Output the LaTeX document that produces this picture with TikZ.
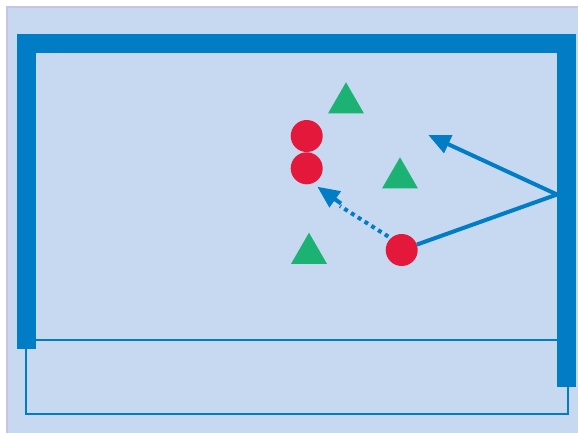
\documentclass[tikz,border=0pt]{standalone}
\usetikzlibrary{shapes.geometric,arrows.meta}
\definecolor{bgblue}{RGB}{198,217,240}
\definecolor{edgelav}{RGB}{196,198,226}
\definecolor{frameblue}{RGB}{0,125,197}
\definecolor{ballred}{RGB}{228,24,58}
\definecolor{conegreen}{RGB}{27,178,116}
\begin{document}
\begin{tikzpicture}[x=1pt,y=-1pt,
  ball/.style={circle,fill=ballred,minimum size=32pt,inner sep=0pt},
  cone/.style={regular polygon,regular polygon sides=3,fill=conegreen,minimum size=41.4pt,inner sep=0pt},
  post/.style={fill=frameblue},
  thinline/.style={draw=frameblue,line width=2pt},
  pass/.style={draw=frameblue,line width=4pt},
  passtip/.style={-{Triangle[length=22pt,width=19pt]}},
  run/.style={pass,dash pattern=on 4pt off 4pt}]
  \useasboundingbox (0,0) rectangle (578,433);
  % pitch background
  \fill[bgblue] (7,7) rectangle (578,433);
  \draw[edgelav,line width=1.2pt] (7,433) -- (7,7) -- (578,7);
  % goal frame: crossbar and posts
  \fill[post] (17,34) rectangle (576,53);
  \fill[post] (17,34) rectangle (36,349);
  \fill[post] (557,34) rectangle (576,387);
  % goal line and net base
  \draw[thinline] (36,340) -- (557,340);
  \draw[thinline] (26,349) -- (26,414) -- (568,414) -- (568,387);
  % cones
  \node[cone] (c1) at (346,103) {};
  \node[cone] (c2) at (400,178) {};
  \node[cone] (c3) at (309,253.4) {};
  % players
  \node[ball] (p1) at (306.7,136) {};
  \node[ball] (p2) at (306.7,168.3) {};
  \node[ball] (p3) at (401.7,250) {};
  % passing lines
  \coordinate (rebound) at (557,194.5);
  \coordinate (target) at (428.3,135);
  \coordinate (runend) at (317.3,186.7);
  \draw[pass] (p3) -- (rebound);
  \draw[pass,passtip] (rebound) -- (target);
  \draw[run] (p3.north west) ++(-2,-2) coordinate (runstart) -- (340,206);
  \draw[pass,passtip,shorten <=0pt] (341,203.5) -- (runend);
\end{tikzpicture}
\end{document}
